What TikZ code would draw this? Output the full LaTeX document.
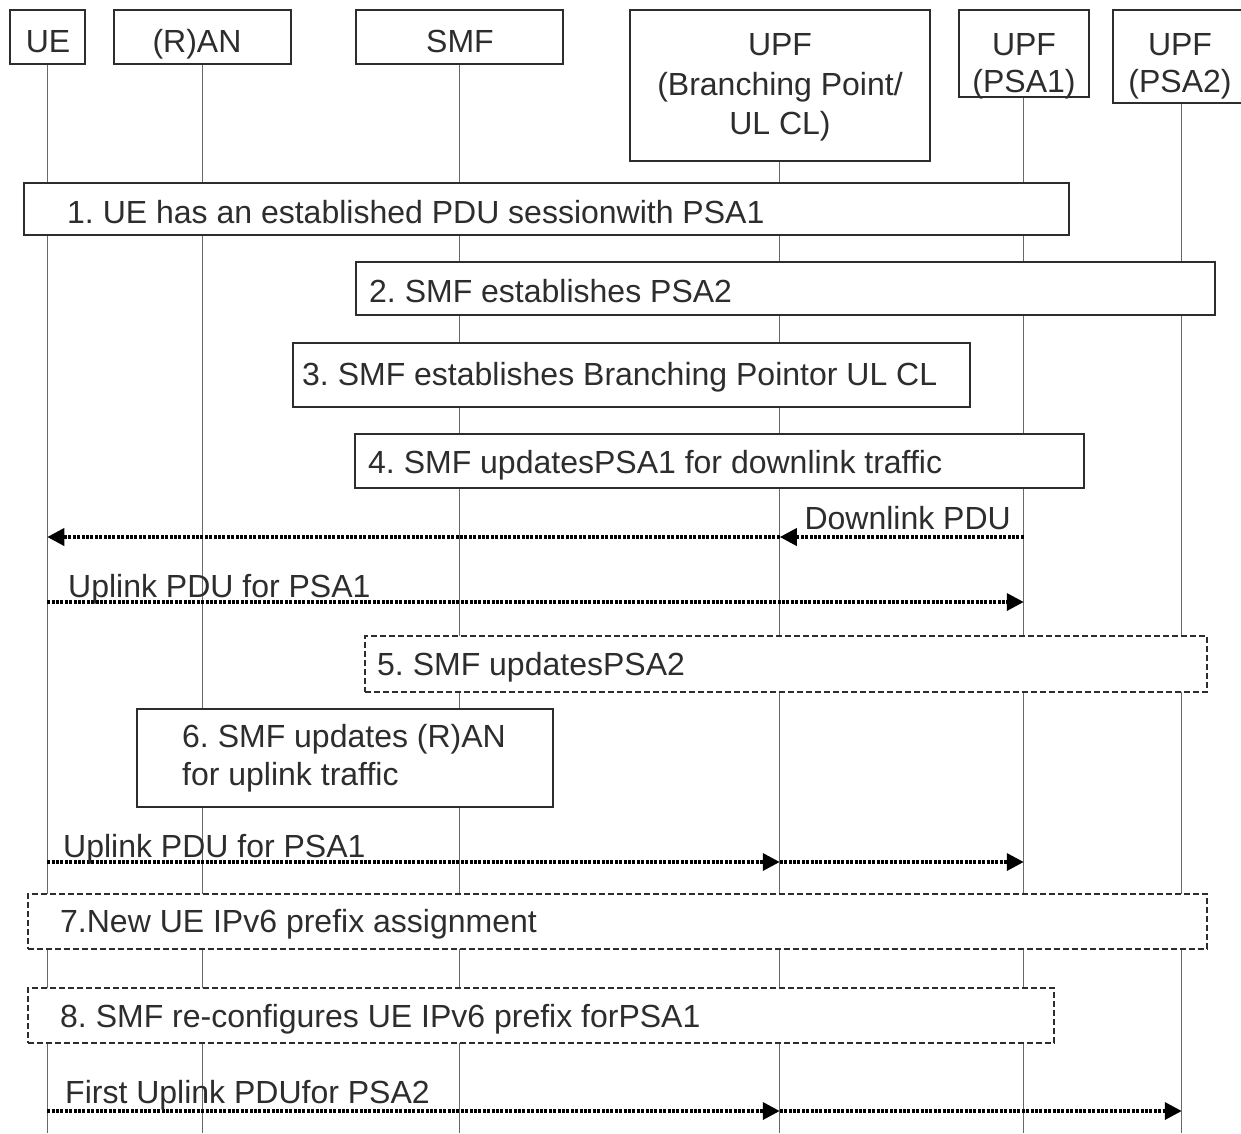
\documentclass[tikz,border=0pt]{standalone}
\usepackage{fontspec}
\setmainfont{Liberation Sans}
\usetikzlibrary{arrows.meta}
\definecolor{ink}{RGB}{45,45,45}
\definecolor{lifec}{RGB}{105,105,105}
\frenchspacing
\begin{document}
\frenchspacing
\begin{tikzpicture}[x=1pt,y=-1pt,
  box/.style={draw=ink, line width=1.5pt, fill=white, inner sep=0pt, anchor=north west},
  dbox/.style={box, line width=1.8pt, dash pattern=on 6pt off 3pt},
  txt/.style={font=\fontsize{32pt}{38pt}\selectfont\frenchspacing, text=ink, inner sep=0pt},
  lifeline/.style={draw=lifec, line width=1.3pt},
  msg/.style={draw=black, line width=3.6pt, dash pattern=on 3pt off 1.4pt,
              -{Triangle[length=17pt,width=17pt]}},
]
\useasboundingbox[fill=white] (0,0) rectangle (1241,1133);
\coordinate (end) at (0,1133);

% header boxes
\node[box, minimum width=75pt,  minimum height=54pt]  (ue)   at (9,9)    {};
\node[box, minimum width=177pt, minimum height=54pt]  (ran)  at (113,9)  {};
\node[box, minimum width=207pt, minimum height=54pt]  (smf)  at (355,9)  {};
\node[box, minimum width=300pt, minimum height=151pt] (bp)   at (629,9)  {};
\node[box, minimum width=130pt, minimum height=87pt]  (psa1) at (958,9)  {};
\node[box, minimum width=138pt, minimum height=93pt]  (psa2) at (1112,9) {};

% lifelines
\foreach \n in {ue,ran,smf,bp,psa1,psa2}
  \draw[lifeline] (\n.south) -- (\n.south |- end);

\node[txt, anchor=base] (ue-t)   at (48,52)  {UE};
\node[txt, anchor=base] (ran-t)  at (197,52) {(R)AN};
\node[txt, anchor=base] (smf-t)  at (460,52) {SMF};
\node[txt, anchor=base] (bp-t1)  at (780,55) {UPF};
\node[txt, anchor=base] (bp-t2)  at (780,95) {(Branching Point/};
\node[txt, anchor=base] (bp-t3)  at (780,134) {UL CL)};
\node[txt, anchor=base] (psa1-t1) at (1024,55) {UPF};
\node[txt, anchor=base] (psa1-t2) at (1024,92) {(PSA1)};
\node[txt, anchor=base] (psa2-t1) at (1180,55) {UPF};
\node[txt, anchor=base] (psa2-t2) at (1180,92) {(PSA2)};

% step boxes
\node[box,  minimum width=1045pt, minimum height=52pt] (s1) at (23,182)  {};
\node[txt, anchor=base west] (s1-t) at (67,223) {1. UE has an established PDU sessionwith PSA1};
\node[box,  minimum width=859pt,  minimum height=53pt] (s2) at (355,261) {};
\node[txt, anchor=base west] (s2-t) at (369,302) {2. SMF establishes PSA2};
\node[box,  minimum width=677pt,  minimum height=64pt] (s3) at (292,342) {};
\node[txt, anchor=base west] (s3-t) at (302,385) {3. SMF establishes Branching Pointor UL CL};
\node[box,  minimum width=729pt,  minimum height=54pt] (s4) at (354,433) {};
\node[txt, anchor=base west] (s4-t) at (368,473) {4. SMF updatesPSA1 for downlink traffic};
\node[dbox, minimum width=842pt,  minimum height=56pt] (s5) at (364,635) {};
\node[txt, anchor=base west] (s5-t) at (377,675) {5. SMF updatesPSA2};
\node[box,  minimum width=416pt,  minimum height=98pt] (s6) at (136,708) {};
\node[txt, anchor=base west] (s6-t1) at (182,747) {6. SMF updates (R)AN};
\node[txt, anchor=base west] (s6-t2) at (182,785) {for uplink traffic};
\node[dbox, minimum width=1179pt, minimum height=55pt] (s7) at (27,893)  {};
\node[txt, anchor=base west] (s7-t) at (60,932) {7.New UE IPv6 prefix assignment};
\node[dbox, minimum width=1026pt, minimum height=55pt] (s8) at (27,987)  {};
\node[txt, anchor=base west] (s8-t) at (60,1027) {8. SMF re-configures UE IPv6 prefix forPSA1};

% message levels
\coordinate (m1) at (0,537);
\coordinate (m2) at (0,602);
\coordinate (m3) at (0,862);
\coordinate (m4) at (0,1111);

% Downlink PDU
\draw[msg] (psa1.south |- m1) -- (bp.south |- m1);
\draw[msg] (bp.south |- m1) -- (ue.south |- m1);
\node[txt, anchor=base east] (l1) at (1011,529) {Downlink PDU};

% Uplink PDU for PSA1
\draw[msg] (ue.south |- m2) -- (psa1.south |- m2);
\node[txt, anchor=base west] (l2) at (68,597) {Uplink PDU for PSA1};

% Uplink PDU for PSA1 (via branching point)
\draw[msg] (ue.south |- m3) -- (bp.south |- m3);
\draw[msg] (bp.south |- m3) -- (psa1.south |- m3);
\node[txt, anchor=base west] (l3) at (63,857) {Uplink PDU for PSA1};

% First Uplink PDU for PSA2
\draw[msg] (ue.south |- m4) -- (bp.south |- m4);
\draw[msg] (bp.south |- m4) -- (psa2.south |- m4);
\node[txt, anchor=base west] (l4) at (65,1103) {First Uplink PDUfor PSA2};
\end{tikzpicture}
\end{document}
